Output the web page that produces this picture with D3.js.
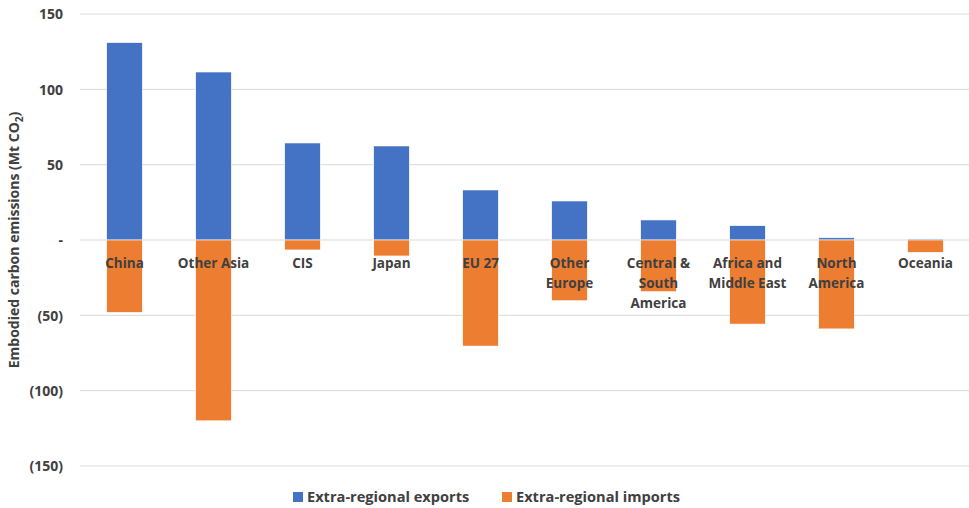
<!DOCTYPE html>
<html>
<head>
<meta charset="utf-8">
<script src="https://cdn.jsdelivr.net/npm/d3@7"></script>
<style>
  body { margin: 0; background: #fff; }
  svg text { font-family: "Open Sans", "Liberation Sans", sans-serif; font-weight: bold; fill: #404040; }
</style>
</head>
<body>
<svg id="chart" width="969" height="508"></svg>
<script>
// Regions and their embodied carbon flows (Mt CO2)
const regions = [["China"], ["Other Asia"], ["CIS"], ["Japan"], ["EU 27"], ["Other", "Europe"],
  ["Central &", "South", "America"], ["Africa and", "Middle East"], ["North", "America"], ["Oceania"]];
const exportsMt = [131, 111.5, 64.4, 62.4, 33.2, 25.9, 13.3, 9.5, 1.5, 0.7];
const importsMt = [-48, -120, -6.6, -10.6, -70.4, -40.3, -34.3, -55.8, -59, -8.2];
const yTicks = [150, 100, 50, 0, -50, -100, -150];
const seriesNames = ["Extra-regional exports", "Extra-regional imports"];
const colors = ["#4472C4", "#ED7D31"];

const svg = d3.select("#chart");
const x = d3.scaleBand().domain(d3.range(regions.length)).range([80, 970]).paddingInner(0.6).paddingOuter(0.3);
const y = d3.scaleLinear().domain([-150, 150]).range([466, 14]);

// Gridlines
svg.append("g").selectAll("line").data(yTicks).join("line")
  .attr("x1", 80).attr("x2", 969)
  .attr("y1", d => y(d)).attr("y2", d => y(d))
  .attr("stroke", "#d9d9d9").attr("stroke-width", 1);

// Y axis tick labels
const fmt = d => d === 0 ? "-" : d < 0 ? `(${-d})` : `${d}`;
const yAxis = d3.axisLeft(y).tickValues(yTicks).tickFormat(fmt).tickSize(0).tickPadding(0);
const gy = svg.append("g").attr("transform", "translate(63,0)").call(yAxis);
gy.select(".domain").remove();
gy.selectAll("text").style("font-size", "14px").attr("dy", "0.35em");

// Y axis title
const title = svg.append("text")
  .attr("transform", `translate(19,${y(0)}) rotate(-90)`)
  .attr("text-anchor", "middle").style("font-size", "14px");
title.append("tspan").text("Embodied carbon emissions (Mt CO");
title.append("tspan").text("2").attr("dy", 4).style("font-size", "10px");
title.append("tspan").text(")").attr("dy", -4);

// Bars
const series = [exportsMt, importsMt];
series.forEach((vals, si) => {
  svg.append("g").selectAll("rect").data(vals).join("rect")
    .attr("x", (d, i) => x(i))
    .attr("width", x.bandwidth())
    .attr("y", d => y(Math.max(0, d)))
    .attr("height", d => Math.abs(y(d) - y(0)))
    .attr("fill", colors[si])
    .attr("stroke", "#fff").attr("stroke-width", 0.6);
});

// Category labels
const lab = svg.append("g").selectAll("text").data(regions).join("text")
  .attr("x", (d, i) => x(i) + x.bandwidth() / 2)
  .attr("y", 268)
  .attr("text-anchor", "middle")
  .style("font-size", "13.5px");
lab.selectAll("tspan").data(d => d).join("tspan")
  .attr("x", function () { return d3.select(this.parentNode).attr("x"); })
  .attr("dy", (d, i) => i === 0 ? 0 : 20)
  .text(d => d);

// Legend
const legend = svg.append("g");
const lx = [293, 502];
seriesNames.forEach((name, i) => {
  legend.append("rect").attr("x", lx[i]).attr("y", 492).attr("width", 10).attr("height", 10).attr("fill", colors[i]);
  legend.append("text").attr("x", lx[i] + 14).attr("y", 502).style("font-size", "14.6px").text(name);
});
</script>
</body>
</html>
